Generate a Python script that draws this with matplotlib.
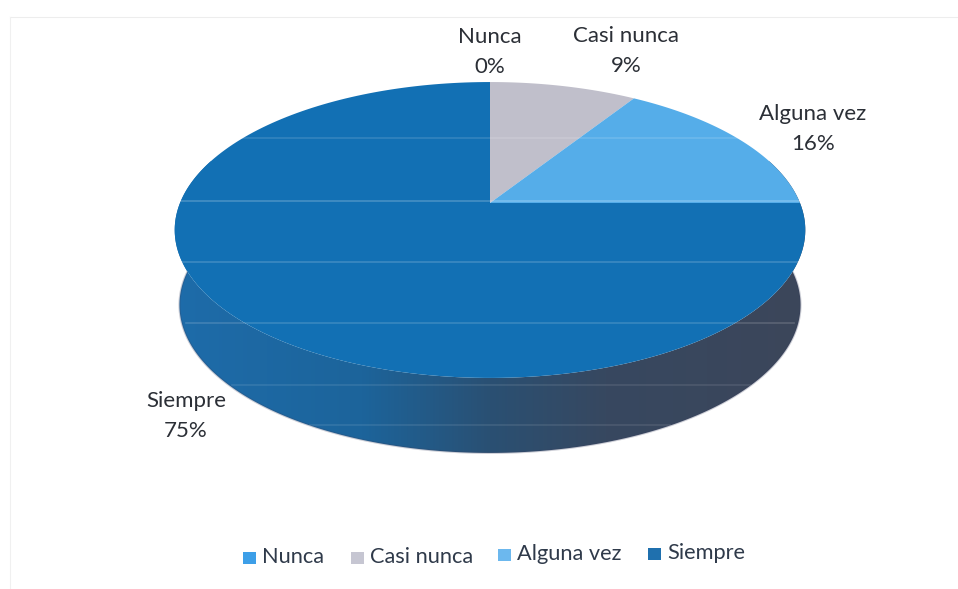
import numpy as np
import matplotlib
matplotlib.use("Agg")
import matplotlib.pyplot as plt
from matplotlib.patches import Polygon, Rectangle

plt.rcParams["font.family"] = ["Lato", "DejaVu Sans"]

# ---------------------------------------------------------
# data
# ---------------------------------------------------------
categories = ["Nunca", "Casi nunca", "Alguna vez", "Siempre"]
values = [0, 9, 16, 75]
slice_colors = ["#3d9fe8", "#c0bfcb", "#55ade9", "#1270b4"]
legend_colors = ["#3d9fe8", "#c6c6d2", "#6cb8ee", "#1f70ae"]

label_x = [490, 626, 813, 186]
label_y = [52, 51, 129, 416]
legend_x = [243, 351, 498, 648]
legend_y = [558, 558, 555, 554]

# pie geometry in pixels, tilted with a perspective so the centre sits high
cx, cy = 490, 203
radius = 310
persp = 0.1824
tilt = -106.0
depth = 75
wall_shrink = 0.985


def project(frac):
    # frac is clockwise from the top of the pie, 0..1
    a = 2 * np.pi * np.asarray(frac)
    u, v = np.sin(a), np.cos(a)
    d = 1 + persp * v
    return cx + radius * u / d, (tilt * v + cy) / d


fig = plt.figure(figsize=(9.58, 5.89), dpi=100)
ax = fig.add_axes([0, 0, 1, 1])

# chart frame, very faint on the scan
ax.plot([10, 958], [17, 17], color="#ededed", lw=0.8)
ax.plot([10, 10], [17, 589], color="#f0f0f0", lw=0.8)

# side wall, gradient from blue on the left to slate on the right
t = np.linspace(0.2, 0.8, 300)
rx, ry = project(t)
edge_top = np.column_stack([rx, ry])
edge_low = np.column_stack([cx + (rx - cx) * wall_shrink, ry + depth])
stops_x = [0.0, 0.3, 0.5, 0.68, 1.0]
stops = np.array([[30, 108, 170], [28, 100, 155], [42, 80, 115], [55, 72, 96], [60, 70, 90]]) / 255
xi = np.linspace(0, 1, 300)
img = np.stack([np.interp(xi, stops_x, stops[:, k]) for k in range(3)], axis=-1)[None, :, :]
im = ax.imshow(img, extent=[170, 810, 470, 80], aspect="auto", zorder=1)
clip = Polygon(np.vstack([edge_top, edge_low[::-1]]), transform=ax.transData, fc="none", ec="none")
ax.add_patch(clip)
im.set_clip_path(clip)
ax.plot(edge_low[:, 0], edge_low[:, 1], color="#3a4060", lw=1.5, alpha=0.25, zorder=1)

# top face slices
start = 0
for val, col in zip(values, slice_colors):
    end = start + val / 100
    if val > 0:
        px, py = project(np.linspace(start, end, 200))
        pts = np.vstack([[cx, cy], np.column_stack([px, py])])
        ax.add_patch(Polygon(pts, closed=True, fc=col, ec="none", zorder=2))
    start = end

# faint horizontal scan lines
scan_y = [138, 201, 262, 323, 385, 425]
scan_alpha = [0.14, 0.22, 0.18, 0.16, 0.1, 0.1]
scan_left = [243, 180, 180, 186, 232, 310]
scan_right = [737, 800, 798, 794, 750, 670]
for y, a, x0, x1 in zip(scan_y, scan_alpha, scan_left, scan_right):
    ax.plot([x0, x1], [y, y], color="white", alpha=a, lw=1.2, zorder=3)

# data labels
for name, val, x, y in zip(categories, values, label_x, label_y):
    ax.text(x, y, name + "\n" + str(val) + "%", ha="center", va="center", fontsize=16,
            color="#2b2f36", linespacing=1.6, zorder=4)

# legend
for name, col, x, y in zip(categories, legend_colors, legend_x, legend_y):
    ax.add_patch(Rectangle((x, y - 6), 13, 12, fc=col, ec="none"))
    ax.text(x + 19, y - 1, name, ha="left", va="center", fontsize=15.7, color="#2f3a4a")

ax.set_xlim(0, 958)
ax.set_ylim(589, 0)
ax.axis("off")

fig.savefig("out.png", dpi=100)
